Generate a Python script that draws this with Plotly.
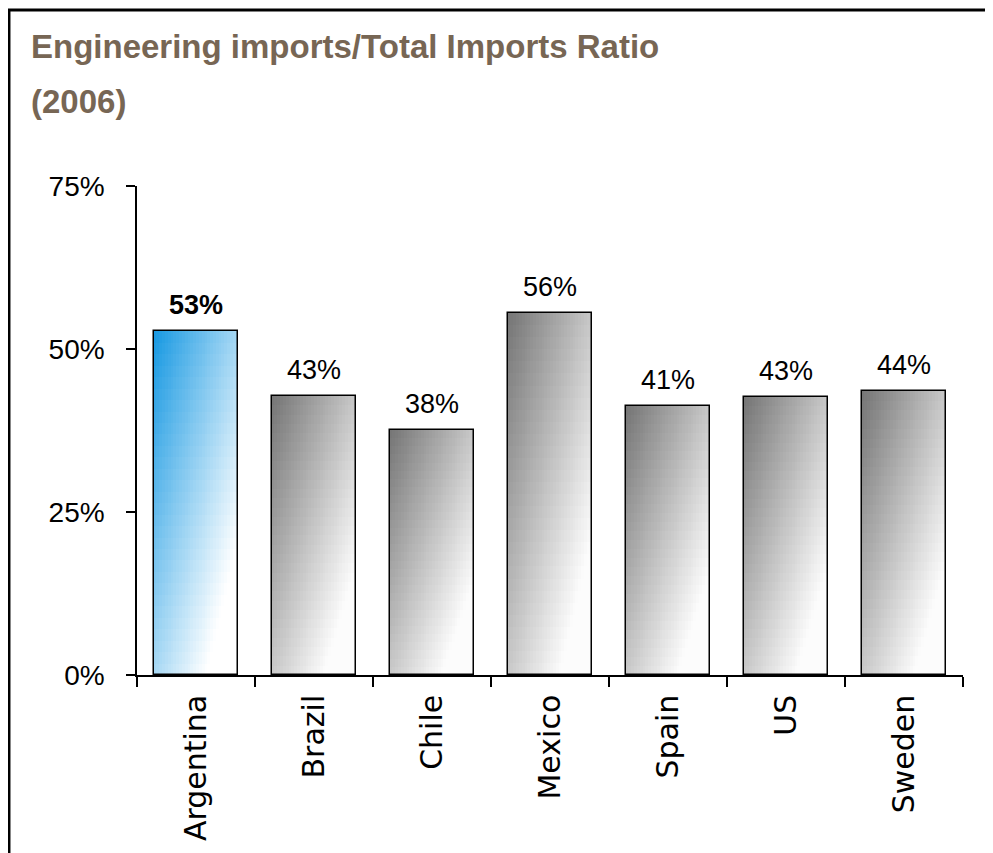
import plotly.graph_objects as go

# ---- data ----
countries = ["Argentina", "Brazil", "Chile", "Mexico", "Spain", "US", "Sweden"]
ratios = [0.527, 0.428, 0.376, 0.555, 0.413, 0.427, 0.435]
highlight = "Argentina"
y_tick_vals = [0, 0.25, 0.50, 0.75]
y_tick_text = ["0%", "25%", "50%", "75%"]
title_lines = ["Engineering imports/Total Imports Ratio", "(2006)"]

# ---- style ----
NARROW = "Liberation Sans, Arial, sans-serif"
WIDE = "DejaVu Sans, Verdana, sans-serif"
TITLE_COLOR = "#776654"
BAR_W = 0.72
NX, NY = 30, 30
BLUE0, BLUE1 = (22, 152, 226), (255, 255, 255)
GRAY0, GRAY1 = (116, 116, 116), (252, 252, 252)


def mix(c0, c1, t):
    t = max(0.0, min(1.0, t))
    return "rgb(%d,%d,%d)" % tuple(round(a + (b - a) * t) for a, b in zip(c0, c1))


fig = go.Figure()

# gradient fill: slices in x, segments in y, all positioned from the data values
w = BAR_W / NX
for i in range(NX):
    xf = (i + 0.5) / NX
    xs, hs, bases, cols = [], [], [], []
    for j in range(NY):
        yf = (j + 0.5) / NY
        t = 0.62 * xf + 0.62 * (1 - yf)
        for c, v in zip(countries, ratios):
            xs.append(c)
            bases.append(v * j / NY)
            hs.append(v / NY * (1.08 if j < NY - 1 else 1.0))
            if c == highlight:
                cols.append(mix(BLUE0, BLUE1, t))
            else:
                cols.append(mix(GRAY0, GRAY1, t))
    fig.add_trace(go.Bar(
        x=xs, y=hs, base=bases,
        width=w * (1.5 if i < NX - 1 else 1.0),
        offset=-BAR_W / 2 + i * w,
        marker=dict(color=cols, line=dict(width=0)),
        hoverinfo="skip", showlegend=False,
    ))

# outlines
fig.add_trace(go.Bar(
    x=countries, y=ratios, width=BAR_W,
    marker=dict(color="rgba(0,0,0,0)", line=dict(color="black", width=1.5)),
    showlegend=False,
))

annotations = []
for c, v in zip(countries, ratios):
    label = "%d%%" % round(v * 100)
    annotations.append(dict(
        x=c, y=v, xref="x", yref="y", text=label, showarrow=False,
        yanchor="bottom", yshift=9,
        font=dict(family=NARROW, size=27, color="black",
                  weight="bold" if c == highlight else "normal"),
    ))

annotations.append(dict(
    x=-0.131, y=1.286, xref="paper", yref="paper", text=title_lines[0],
    showarrow=False, xanchor="left", yanchor="middle",
    font=dict(family=NARROW, size=33, color=TITLE_COLOR, weight="bold"),
))
annotations.append(dict(
    x=-0.131, y=1.172, xref="paper", yref="paper", text=title_lines[1],
    showarrow=False, xanchor="left", yanchor="middle",
    font=dict(family=NARROW, size=33, color=TITLE_COLOR, weight="bold"),
))

fig.update_layout(
    width=993, height=853,
    margin=dict(l=129, r=38, t=178, b=186),
    paper_bgcolor="white", plot_bgcolor="white",
    barmode="overlay", bargap=0,
    annotations=annotations,
    shapes=[dict(type="rect", xref="paper", yref="paper",
                 x0=-0.155, x1=1.08, y0=-0.42, y1=1.36,
                 line=dict(color="black", width=3), fillcolor="rgba(0,0,0,0)")],
    xaxis=dict(
        range=[-0.5, 6.5], showgrid=False, zeroline=False,
        showline=True, linecolor="black", linewidth=1.5,
        ticks="outside", ticklen=10, tickwidth=1.5, tickcolor="black",
        tickson="boundaries", tickangle=-90, ticklabelstandoff=6,
        tickfont=dict(family=WIDE, size=30, color="black"),
    ),
    yaxis=dict(
        range=[0, 0.75], tickvals=y_tick_vals, ticktext=y_tick_text,
        showgrid=False, zeroline=False,
        showline=True, linecolor="black", linewidth=1.5,
        ticks="outside", ticklen=9, tickwidth=1.5, tickcolor="black",
        ticklabelstandoff=16,
        tickfont=dict(family=NARROW, size=28, color="black"),
    ),
)

fig.write_html("out.html")
